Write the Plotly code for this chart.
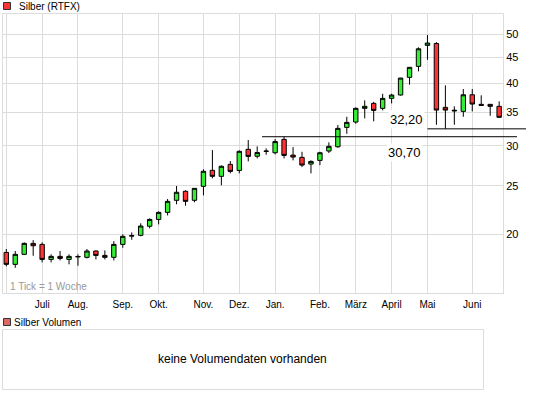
import pandas as pd
import plotly.graph_objects as go

# ---------------- data ----------------
weeks = [d.strftime("%Y-%m-%d") for d in pd.date_range("2010-05-31", periods=56, freq="W-MON")]

open_ = [18.41, 17.43, 18.25, 19.19, 19.10, 17.83, 18.08, 17.83, 18.03, 18.00,
         18.53, 18.16, 18.00, 19.10, 19.84, 19.91, 20.76, 21.42, 22.12, 23.38,
         24.37, 23.38, 24.93, 26.83, 26.10, 27.57, 26.82, 29.54, 28.62, 29.26,
         29.08, 30.92, 28.77, 28.47, 27.61, 28.08, 29.31, 29.89, 32.67, 33.48,
         35.65, 36.47, 35.65, 37.32, 37.90, 41.10, 43.22, 47.59, 48.00, 35.81,
         35.35, 35.16, 37.94, 36.31, 36.31, 35.98]
high = [18.70, 18.53, 19.28, 19.48, 19.28, 18.25, 18.53, 18.25, 18.25, 18.70,
        18.58, 18.58, 19.39, 20.00, 20.18, 21.04, 21.52, 22.23, 23.52, 24.97,
        24.48, 24.72, 26.95, 29.44, 27.45, 27.99, 29.40, 30.82, 29.95, 29.67,
        30.97, 31.29, 29.85, 29.21, 28.08, 29.21, 30.50, 33.02, 34.30, 35.81,
        36.98, 36.74, 38.12, 38.12, 41.00, 43.05, 47.16, 49.90, 48.30, 39.62,
        35.98, 38.95, 38.95, 37.84, 36.32, 36.81]
low = [17.27, 17.16, 18.19, 18.13, 17.59, 17.59, 17.75, 17.43, 17.32, 17.91,
       17.83, 17.83, 17.75, 18.81, 19.51, 19.82, 20.56, 20.94, 21.82, 22.96,
       22.81, 23.17, 23.92, 25.86, 25.05, 26.46, 26.46, 27.95, 28.34, 28.81,
       28.87, 28.34, 28.08, 27.23, 26.46, 27.48, 29.04, 29.75, 31.73, 33.22,
       34.05, 33.59, 35.32, 36.47, 37.80, 39.73, 42.24, 44.55, 33.06, 32.46,
       33.06, 34.30, 35.16, 36.12, 34.46, 34.20]
close = [17.43, 18.25, 19.19, 18.98, 17.83, 18.08, 17.91, 18.08, 18.07, 18.53,
         18.16, 18.00, 19.10, 19.82, 19.88, 20.78, 21.42, 22.12, 23.27, 24.26,
         23.27, 24.70, 26.71, 26.10, 27.33, 26.70, 29.27, 28.60, 29.11, 29.30,
         30.61, 28.73, 28.51, 27.48, 27.95, 29.08, 29.95, 32.52, 33.43, 35.65,
         35.98, 35.32, 37.32, 37.89, 40.96, 43.03, 46.85, 48.10, 35.37, 35.37,
         35.25, 37.94, 36.36, 36.14, 35.98, 34.21]

month_weeks = ["2010-05-31", "2010-06-28", "2010-07-26", "2010-08-30", "2010-09-27",
               "2010-11-01", "2010-11-29", "2010-12-27", "2011-01-31", "2011-02-28",
               "2011-03-28", "2011-04-25", "2011-05-30"]
month_labels = ["", "Juli", "Aug.", "Sep.", "Okt.", "Nov.", "Dez.", "Jan.",
                "Feb.", "März", "April", "Mai", "Juni"]

y_ticks = [20, 25, 30, 35, 40, 45, 50]

level_values = [32.45, 31.3]
level_labels = ["32,20", "30,70"]
level_start_week = [47, 28.54]   # candle index where the line begins

# ---------------- layout helpers ----------------
W, H = 545, 398
def fx(p): return p / W
def fy(p): return 1 - p / H

PL, PR, PT, PB = 3, 503, 14, 293
XR = [-0.368, 55.43]
YR = [1.18423, 1.74001]

def idx_paper(i):
    return fx(PL) + (i - XR[0]) / (XR[1] - XR[0]) * (fx(PR) - fx(PL))

FONT = "Liberation Sans, Arial, sans-serif"
GRID = "#dcdcdc"

fig = go.Figure()
fig.add_trace(go.Candlestick(
    x=weeks, open=open_, high=high, low=low, close=close,
    increasing=dict(fillcolor="#33ee33", line=dict(color="#000000", width=1)),
    decreasing=dict(fillcolor="#ff3333", line=dict(color="#000000", width=1)),
    whiskerwidth=0, showlegend=False, hoverinfo="skip",
))

shapes = []
# level lines
for v, s, xe in zip(level_values, level_start_week, [526, 517]):
    shapes.append(dict(type="line", xref="paper", yref="y",
                       x0=idx_paper(s), x1=fx(xe), y0=v, y1=v,
                       line=dict(color="#000000", width=1), layer="above"))
# header legend squares
shapes.append(dict(type="rect", xref="paper", yref="paper",
                   x0=fx(3.5), x1=fx(10.5), y0=fy(2.5), y1=fy(9.5),
                   fillcolor="#ff3333", line=dict(color="#333333", width=1)))
shapes.append(dict(type="rect", xref="paper", yref="paper",
                   x0=fx(3.5), x1=fx(10.5), y0=fy(318.5), y1=fy(325.5),
                   fillcolor="#dd6666", line=dict(color="#333333", width=1)))
# volume box
shapes.append(dict(type="rect", xref="paper", yref="paper",
                   x0=fx(2.5), x1=fx(483.5), y0=fy(329.5), y1=fy(389.5),
                   fillcolor="rgba(0,0,0,0)", line=dict(color=GRID, width=1)))

annotations = [
    dict(text="Silber (RTFX)", x=fx(16.5), y=fy(6.5), xref="paper", yref="paper",
         xanchor="left", yanchor="middle", showarrow=False,
         font=dict(family=FONT, size=10, color="#000000")),
    dict(text="Silber Volumen", x=fx(11.5), y=fy(322), xref="paper", yref="paper",
         xanchor="left", yanchor="middle", showarrow=False,
         font=dict(family=FONT, size=10, color="#000000")),
    dict(text="keine Volumendaten vorhanden", x=fx(242.7), y=fy(359), xref="paper", yref="paper",
         xanchor="center", yanchor="middle", showarrow=False,
         font=dict(family=FONT, size=12, color="#000000")),
    dict(text="1 Tick = 1 Woche", x=fx(8), y=fy(286.5), xref="paper", yref="paper",
         xanchor="left", yanchor="middle", showarrow=False,
         font=dict(family=FONT, size=10, color="#999999")),
    dict(text=level_labels[0], x=fx(425), y=fy(120), xref="paper", yref="paper",
         xanchor="right", yanchor="middle", showarrow=False, bgcolor="#ffffff",
         borderpad=1, font=dict(family=FONT, size=13, color="#000000")),
    dict(text=level_labels[1], x=fx(423), y=fy(152.5), xref="paper", yref="paper",
         xanchor="right", yanchor="middle", showarrow=False, bgcolor="#ffffff",
         borderpad=1, font=dict(family=FONT, size=13, color="#000000")),
]

fig.update_layout(
    width=W, height=H, autosize=False,
    margin=dict(l=0, r=0, t=0, b=0, pad=0),
    paper_bgcolor="#ffffff", plot_bgcolor="#ffffff",
    font=dict(family=FONT, size=10, color="#000000"),
    showlegend=False,
    shapes=shapes, annotations=annotations,
    xaxis=dict(
        type="category", domain=[fx(PL), fx(PR)], range=XR,
        rangeslider=dict(visible=False),
        tickmode="array", tickvals=month_weeks, ticktext=month_labels,
        showgrid=True, gridcolor=GRID, gridwidth=1,
        showline=True, linecolor=GRID, linewidth=1, mirror=True,
        ticks="", zeroline=False, automargin=False, ticklabelstandoff=2,
        tickfont=dict(family=FONT, size=10, color="#000000"),
    ),
    yaxis=dict(
        type="log", domain=[fy(PB), fy(PT)], range=YR, side="right",
        tickmode="array", tickvals=y_ticks, ticktext=[str(t) for t in y_ticks],
        showgrid=True, gridcolor=GRID, gridwidth=1,
        showline=True, linecolor=GRID, linewidth=1, mirror=True,
        ticks="", zeroline=False, automargin=False,
        tickfont=dict(family=FONT, size=11, color="#000000"),
    ),
)

fig.write_html("out.html", config={"displayModeBar": False},
               post_script="document.body.style.margin='0px';document.body.style.padding='0px';")
